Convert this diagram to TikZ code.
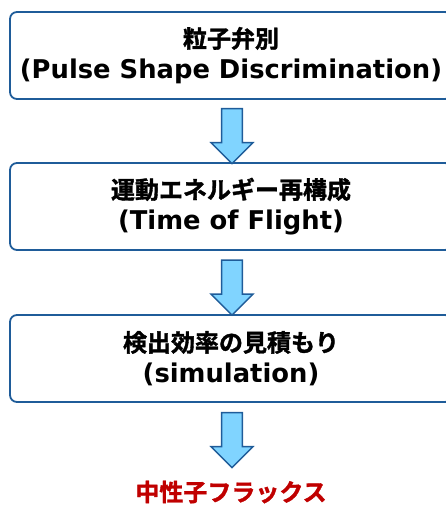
\documentclass[tikz,border=0pt]{standalone}
\usepackage{fontspec}
\newfontfamily\jpfont{Noto Sans CJK JP Bold}[FakeBold=1.5]
\newfontfamily\latinfont{DejaVu Sans}
\usetikzlibrary{
    shapes.arrows,
    positioning,
    calc
}
\definecolor{boxblue}{RGB}{31,92,153}
\definecolor{arrowfill}{RGB}{128,212,255}
\definecolor{fluxred}{RGB}{192,0,0}
\newcommand{\en}[1]{{\latinfont\bfseries\fontsize{25.8}{31}\selectfont #1}}

\begin{document}
\begin{tikzpicture}[
    x=1pt, y=-1pt,
    stepbox/.style={
        rectangle,
        rounded corners=7pt,
        minimum width=442pt,
        minimum height=87pt,
        align=center,
        draw=boxblue,
        line width=1.8pt,
        font=\jpfont\fontsize{24}{31}\selectfont
    },
    flowarrow/.style={
        single arrow,
        rotate=-90,
        draw=boxblue,
        fill=arrowfill,
        line width=1.4pt,
        minimum height=55pt,
        minimum width=42pt,
        inner sep=9.5pt,
        single arrow head extend=10.5pt,
        single arrow tip angle=90,
        anchor=center
    }
]
\useasboundingbox (0,0) rectangle (445,506);

% Steps
\node[stepbox] (pid) at (231, 55.5) {粒子弁別\\\en{(Pulse Shape Discrimination)}};
\node[stepbox] (tof) at (231, 206.5) {運動エネルギー再構成\\\en{(Time of Flight)}};
\node[stepbox] (sim) at (231, 358.5) {検出効率の見積もり\\\en{(simulation)}};

% Result
\node[font=\jpfont\fontsize{24}{31}\selectfont, text=fluxred] (flux) at (231, 492) {中性子フラックス};

% Arrows
\node[flowarrow] (a1) at ($(pid.south)!0.5!(tof.north) + (1,0)$) {};
\node[flowarrow] (a2) at ($(tof.south)!0.5!(sim.north) + (1,0)$) {};
\node[flowarrow] (a3) at ($(sim.south) + (1,32)$) {};

\end{tikzpicture}
\end{document}
